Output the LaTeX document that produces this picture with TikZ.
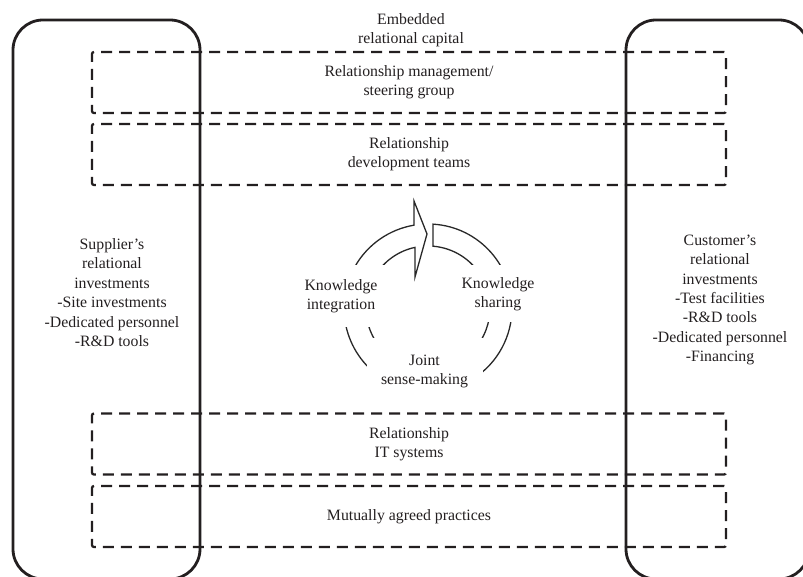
\documentclass[tikz,border=0pt]{standalone}
\usepackage{fontspec}
\setmainfont{Liberation Serif}
\usetikzlibrary{calc}
\definecolor{linecol}{RGB}{35,31,32}
\definecolor{cyclecol}{RGB}{40,40,40}
\begin{document}
\begin{tikzpicture}[x=1pt,y=1pt,
  txt/.style={align=center, inner sep=0pt, text=linecol, font=\fontsize{15.8}{19.4}\selectfont},
  partnerbox/.style={draw=linecol, line width=2.8pt, rounded corners=30pt},
  layerbox/.style={txt, draw=linecol, line width=2.3pt, dash pattern=on 11pt off 7pt,
    rounded corners=2pt, minimum width=634pt, minimum height=61pt},
  cyclearrow/.style={draw=cyclecol, line width=1.3pt, fill=white, line join=miter},
  cyclelabel/.style={txt, fill=white},
]
\useasboundingbox (0,0) rectangle (803,576);

% dashed layers of embedded relational capital
\node[layerbox] (steer) at (409,493.5) {Relationship management/\\steering group};
\node[layerbox] (teams) at (409,421.5) {Relationship\\development teams};
\node[layerbox] (itsys) at (409,132)   {Relationship\\IT systems};
\node[layerbox] (pract) at (409,59.5)  {Mutually agreed practices};

% supplier and customer investment frames
\draw[partnerbox] (13,-3) rectangle (200,556);
\draw[partnerbox] (626,-3) rectangle (809,556);

\node[txt] (capital) at (411,546) {Embedded\\relational capital};
\node[txt] (supplier) at (112,283.5)
  {Supplier’s\\relational\\investments\\-Site investments\\-Dedicated personnel\\-R\&D tools};
\node[txt] (customer) at (720,276)
  {Customer’s\\relational\\investments\\-Test facilities\\-R\&D tools\\-Dedicated personnel\\-Financing};

% knowledge cycle
\coordinate (cc) at (428,268);
\draw[cyclearrow] ($(cc)+(240:84)$) arc[start angle=240, end angle=99.6, radius=84]
  -- (414,375) -- (427,342) -- (415,299)
  -- ($(cc)+(102.1:62)$) arc[start angle=102.1, end angle=240, radius=62] -- cycle;
\draw[cyclearrow] ($(cc)+(86.6:84)$) arc[start angle=86.6, end angle=-60, radius=84]
  -- ($(cc)+(-60:62)$) arc[start angle=-60, end angle=85.4, radius=62] -- cycle;

\node[cyclelabel, minimum width=118pt, minimum height=62pt] (integ) at (341,280) {Knowledge\\integration};
\node[cyclelabel, minimum width=80pt, minimum height=57pt] (share) at (498,282) {Knowledge\\sharing};
\node[cyclelabel, minimum width=116pt, minimum height=67pt] (joint) at (424.5,204.5) {Joint\\sense-making};
\end{tikzpicture}
\end{document}
